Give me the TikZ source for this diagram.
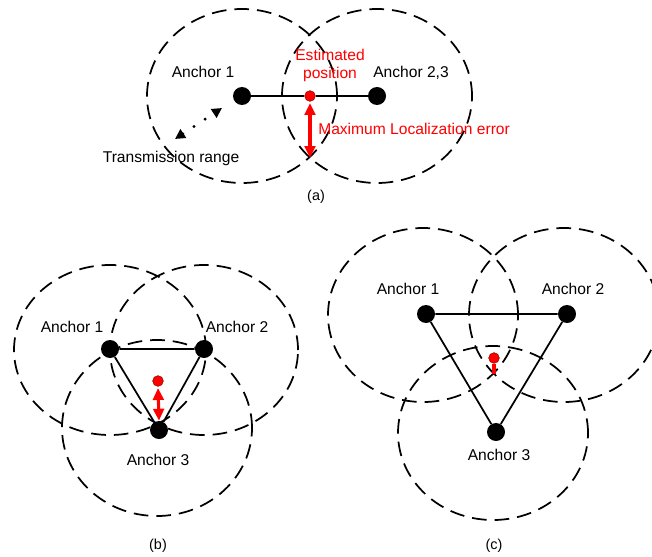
\documentclass[tikz,border=0pt]{standalone}
\usepackage{fontspec}
\setmainfont{Liberation Sans}
\usetikzlibrary{arrows.meta}
\begin{document}
\begin{tikzpicture}[x=0.75pt,y=-0.75pt,
  rangeline/.style={draw=black, line width=1.3pt, dash pattern=on 11pt off 6pt},
  anchorpt/.style={circle, fill=black, inner sep=0pt, minimum size=13.5pt},
  estpt/.style={circle, fill=red, draw=red!55!black, line width=0.4pt, inner sep=0pt, minimum size=8pt},
  lbl/.style={font=\fontsize{11.7}{13.5}\selectfont, inner sep=0pt, anchor=base},
  redlbl/.style={lbl, text=red},
  sublabel/.style={font=\fontsize{10.8}{12}\selectfont, inner sep=0pt, anchor=base},
  linkline/.style={draw=black, line width=1.3pt},
  errarrow/.style={draw=red, line width=2.3pt, {Triangle[length=9pt,width=8pt]}-{Triangle[length=9pt,width=8pt]}},
  reacharrow/.style={draw=black, line width=2.4pt, line cap=round, dash pattern=on 0pt off 10pt,
    {Triangle[length=7.5pt,width=7.5pt]}-{Triangle[length=7.5pt,width=7.5pt]}}
]
\useasboundingbox (0,0) rectangle (652,556);

% ---------- (a) two anchors on a line ----------
\draw[rangeline] (242,96) ellipse [x radius=71.25pt, y radius=65.25pt];
\draw[rangeline] (377,96) ellipse [x radius=71.25pt, y radius=65.25pt];
\node[anchorpt] (a1) at (242,96) {};
\node[anchorpt] (a23) at (377,96) {};
\node[estpt] (aest) at (310,96) {};
\draw[linkline] (a1) -- (aest) -- (a23);
\coordinate (aerrtop) at (310,103);
\coordinate (aerr) at (310,158);
\draw[errarrow] (aerrtop) -- (aerr);
\coordinate (tr1) at (222,108);
\coordinate (tr2) at (175,139);
\draw[reacharrow] (tr2) -- (tr1);
\node[lbl] (la1) at (203,78) {Anchor 1};
\node[lbl] (la23) at (411,78) {Anchor 2,3};
\node[redlbl] (lest1) at (330,61) {Estimated};
\node[redlbl] (lest2) at (330,79) {position};
\node[redlbl, anchor=base west] (lerr) at (318,135) {Maximum Localization error};
\node[lbl] (ltr) at (171,162) {Transmission range};
\node[sublabel] (capa) at (316,200) {(a)};

% ---------- (b) close triangle ----------
\draw[rangeline] (110,350) ellipse [x radius=72pt, y radius=63.75pt];
\draw[rangeline] (204,350) ellipse [x radius=70.5pt, y radius=63.75pt];
\draw[rangeline] (157,428) ellipse [x radius=71.25pt, y radius=66pt];
\node[anchorpt] (b1) at (110,349) {};
\node[anchorpt] (b2) at (204,349) {};
\node[anchorpt] (b3) at (159,430) {};
\node[estpt] (best) at (158,381) {};
\draw[linkline] (b1) -- (b2) -- (b3) -- (b1);
\coordinate (berrtop) at (158,388);
\draw[errarrow] (berrtop) -- (b3.north);
\node[lbl] (lb1) at (72,332) {Anchor 1};
\node[lbl] (lb2) at (237,332) {Anchor 2};
\node[lbl] (lb3) at (158,465) {Anchor 3};
\node[sublabel] (capb) at (158,549) {(b)};

% ---------- (c) wide triangle ----------
\draw[rangeline] (423,315) ellipse [x radius=71.25pt, y radius=65.25pt];
\draw[rangeline] (564,315) ellipse [x radius=71.25pt, y radius=65.25pt];
\draw[rangeline] (493,433) ellipse [x radius=71.25pt, y radius=65.25pt];
\node[anchorpt] (c1) at (426,314) {};
\node[anchorpt] (c2) at (567,314) {};
\node[anchorpt] (c3) at (496,432) {};
\draw[linkline] (c1) -- (c2) -- (c3) -- (c1);
\node[estpt] (cest) at (494,358) {};
\coordinate (cerr) at (494,374);
\draw[draw=red, line width=2.3pt] (cest.south) -- (cerr);
\node[lbl] (lc1) at (408,294) {Anchor 1};
\node[lbl] (lc2) at (573,294) {Anchor 2};
\node[lbl] (lc3) at (499,460) {Anchor 3};
\node[sublabel] (capc) at (494,549) {(c)};
\end{tikzpicture}
\end{document}
